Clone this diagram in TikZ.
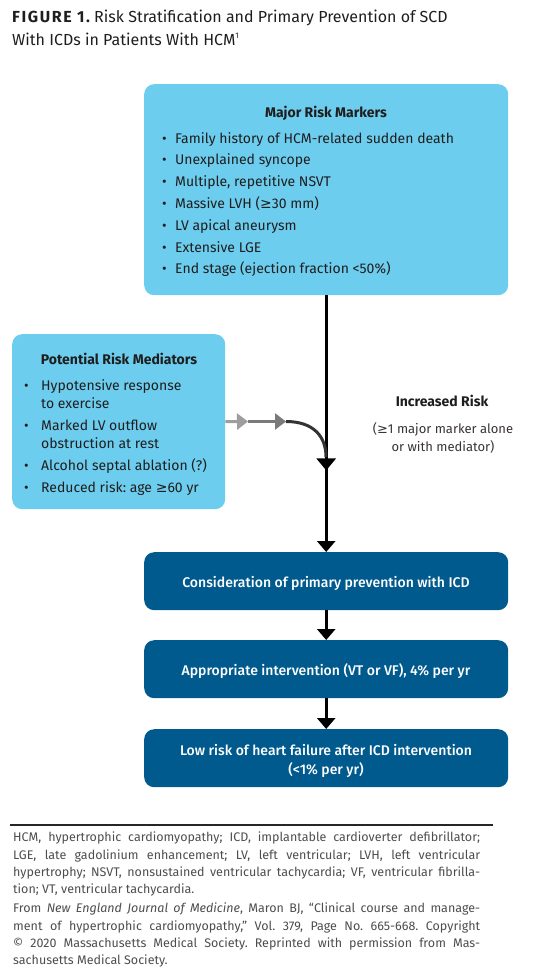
\documentclass[tikz,border=0pt]{standalone}
\usepackage{fontspec}
\setmainfont{Fira Sans}
\newfontfamily\medfont{Fira Sans Medium}
\newfontfamily\dvs{DejaVu Sans}
\newcommand{\mygeq}{{\dvs\char"2265}}
\newcommand{\bl}{\makebox[13pt][l]{\textbullet}}
\newcommand{\blb}{\makebox[17pt][l]{\textbullet}}
\newcommand{\Lleft}[1]{\vtop{\halign{##\hfil\cr#1\crcr}}}
\newcommand{\Lcenter}[1]{\vtop{\halign{\hfil##\hfil\cr#1\crcr}}}
\usetikzlibrary{arrows.meta,decorations.markings}
\definecolor{lblue}{HTML}{6DCDEF}
\definecolor{dblue}{HTML}{005A8D}
\definecolor{txt}{HTML}{1E1E1E}
\definecolor{ptxt}{HTML}{3A3434}
\definecolor{fgray}{HTML}{4D4D4D}
\begin{document}
\frenchspacing
\begin{tikzpicture}[x=1pt,y=-1pt,
  lbox/.style={fill=lblue, rounded corners=10pt, draw=none, inner sep=0pt, anchor=north west},
  dbox/.style={fill=dblue, rounded corners=10pt, draw=none, inner sep=0pt, anchor=north west,
     minimum width=364pt, minimum height=58pt},
  dtxt/.style={anchor=base, inner sep=0pt, text=white, font=\fontsize{14}{19}\selectfont\medfont},
  btxt/.style={anchor=base west, inner sep=0pt, text=txt, font=\fontsize{14}{21.8}\selectfont},
  htxt/.style={anchor=base, inner sep=0pt, text=txt, font=\fontsize{14}{18}\selectfont\bfseries},
  mainline/.style={line width=3.3pt, black},
  bigtip/.style={-{Triangle[width=18pt,length=11pt]}},
  grayline/.style={line width=3pt},
  fnote/.style={anchor=north west, inner sep=0pt, text width=467pt, align=justify, text=fgray, font=\fontsize{12.5}{17.3}\selectfont}
]
\useasboundingbox (0,0) rectangle (540,980);

% title
\node[anchor=base west, inner sep=0pt, text=txt, font=\fontsize{16}{23}\selectfont] (title) at (12,22)
  {\Lleft{{\addfontfeature{LetterSpace=10}\bfseries FIGURE 1.} Risk Stratification and Primary Prevention of SCD\cr
   With ICDs in Patients With HCM\textsuperscript{\fontsize{8}{8}\selectfont 1}}};

% top box
\node[lbox, minimum width=364pt, minimum height=211pt] (top) at (144,84) {};
\node[htxt] (toph) at (326,117) {Major Risk Markers};
\node[btxt] (topb) at (162,143) {\Lleft{\bl Family history of HCM-related sudden death\cr
\bl Unexplained syncope\cr
\bl Multiple, repetitive NSVT\cr
\bl Massive LVH (\mygeq30 mm)\cr
\bl LV apical aneurysm\cr
\bl Extensive LGE\cr
\bl End stage (ejection fraction {<}50\%)}};

% left box
\node[lbox, minimum width=213pt, minimum height=175pt] (left) at (12,334) {};
\node[htxt] (lefth) at (119,364) {Potential Risk Mediators};
\node[btxt, font=\fontsize{14}{18}\selectfont] (leftb1) at (24,390) {\Lleft{\blb Hypotensive response\cr \hspace*{17pt}to exercise}};
\node[btxt, font=\fontsize{14}{18}\selectfont] (leftb2) at (24,430) {\Lleft{\blb Marked LV outflow\cr \hspace*{17pt}obstruction at rest}};
\node[btxt] (leftb3) at (24,470) {\blb Alcohol septal ablation (?)};
\node[btxt] (leftb4) at (24,492) {\blb Reduced risk: age \mygeq60 yr};

% increased risk
\node[htxt] (inc) at (442,406) {Increased Risk};
\node[anchor=base, inner sep=0pt, text=ptxt, font=\fontsize{13}{18}\selectfont] (incb) at (443,433)
  {\Lcenter{(\mygeq1 major marker alone\cr or with mediator)}};

% dark boxes
\node[dbox] (b1) at (144,552) {};
\node[dbox] (b2) at (144,640) {};
\node[dbox] (b3) at (144,729) {};
\node[dtxt] (b1t) at (326,587) {Consideration of primary prevention with ICD};
\node[dtxt] (b2t) at (326,675) {Appropriate intervention (VT or VF), 4\% per yr};
\node[dtxt] (b3t) at (326,755) {\Lcenter{Low risk of heart failure after ICD intervention\cr ({<}1\% per yr)}};

% main vertical connector
\draw[mainline, bigtip,
  postaction={decorate, decoration={markings, mark=at position 175pt with {\arrow{Triangle[width=19pt,length=12pt]}}}}]
  (top.south) -- (b1.north);
\draw[mainline, bigtip] (b1.south) -- (b2.north);
\draw[mainline, bigtip] (b2.south) -- (b3.north);

% gray connector from mediators
\coordinate (g1) at (248,421.5);
\coordinate (g2) at (286,421.5);
\coordinate (j) at (326,457);
\draw[grayline, black!38, -{Triangle[width=16pt,length=11pt]}] (left.east) -- (g1);
\draw[grayline, black!52, -{Triangle[width=16pt,length=11pt]}] (g1) -- (g2);
\draw[grayline, black!80] (g2) .. controls (313,421.5) and (326,436) .. (j);

% rule and footnote
\coordinate (r1) at (10,825);
\coordinate (r2) at (493,825);
\draw[line width=2.2pt, black!85] (r1) -- (r2);
\node[fnote] (fn1) at (13,832)
 {HCM, hypertrophic cardiomyopathy; ICD, implantable cardioverter defibrillator;\linebreak
 LGE, late gadolinium enhancement; LV, left ventricular; LVH, left ventricular\linebreak
 hypertrophy; NSVT, nonsustained ventricular tachycardia; VF, ventricular fibrilla-\linebreak
 tion; VT, ventricular tachycardia.};
\node[fnote] (fn2) at (13,903)
 {From \textit{New England Journal of Medicine}, Maron BJ, ``Clinical course and manage-\linebreak
 ment of hypertrophic cardiomyopathy,'' Vol. 379, Page No. 665-668. Copyright\linebreak
 \textcopyright{} 2020 Massachusetts Medical Society. Reprinted with permission from Mas-\linebreak
 sachusetts Medical Society.};
\end{tikzpicture}
\end{document}
